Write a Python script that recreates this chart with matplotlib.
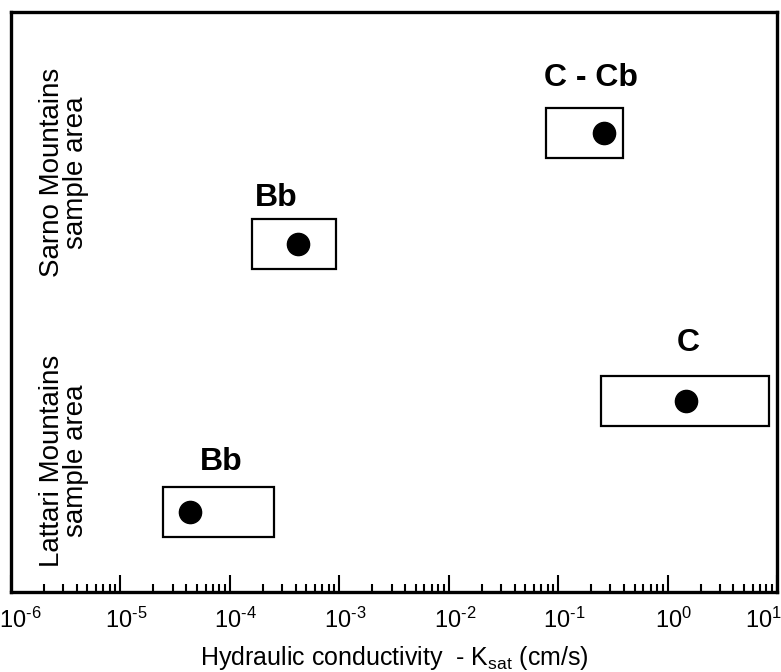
import numpy as np
import matplotlib
matplotlib.use("Agg")
import matplotlib.pyplot as plt
import matplotlib.transforms as mtransforms
from matplotlib.patches import Rectangle
from matplotlib.ticker import LogLocator, NullFormatter

plt.rcParams['font.family'] = ['Liberation Sans', 'DejaVu Sans']
plt.rcParams['mathtext.fontset'] = 'custom'
plt.rcParams['mathtext.rm'] = 'Liberation Sans'
plt.rcParams['mathtext.it'] = 'Liberation Sans'

# Ksat ranges (cm/s) per lithotype, y in relative panel units
labels = ['C - Cb', 'Bb', 'C', 'Bb']
k_low = [0.077, 1.6e-4, 0.245, 2.46e-5]
k_high = [0.389, 9.4e-4, 8.4, 2.55e-4]
k_point = [0.26, 4.2e-4, 1.47, 4.35e-5]
y_center = [0.791, 0.600, 0.329, 0.138]
label_x = [0.198, 2.66e-4, 1.56, 8.3e-5]
label_y = [0.886, 0.679, 0.429, 0.224]
area_names = ['Sarno Mountains\nsample area', 'Lattari Mountains\nsample area']
area_y = [0.723, 0.226]
decades = np.arange(-6, 2)

fig = plt.figure(figsize=(7.81, 6.72), dpi=100)
ax = fig.add_axes([0.0141, 0.119, 0.9808, 0.863])
ax.set_xscale('log')
ax.set_xlim(1e-6, 1e1)
ax.set_ylim(0, 1)

box_h = 0.086
for lo, hi, kp, yc, lab, lx, ly in zip(k_low, k_high, k_point, y_center, labels, label_x, label_y):
    ax.add_patch(Rectangle((lo, yc - box_h / 2), hi - lo, box_h, fill=False,
                           edgecolor='black', linewidth=1.6))
    ax.plot(kp, yc, 'o', color='black', markersize=16)
    ax.text(lx, ly, lab, ha='center', va='center', fontsize=23, fontweight='bold')

for name, ya in zip(area_names, area_y):
    ax.text(0.037, ya, name, transform=ax.transAxes, rotation=90, ha='left',
            va='center', fontsize=20, linespacing=0.9, multialignment='center')

for s in ax.spines.values():
    s.set_linewidth(2.4)

ax.xaxis.set_minor_locator(LogLocator(base=10, subs=np.arange(2, 10), numticks=20))
ax.set_xticks([10.0 ** d for d in decades])
ax.set_xticklabels([r'10$^{\text{%d}}$' % d for d in decades])
ax.xaxis.set_minor_formatter(NullFormatter())
ax.tick_params(axis='x', which='major', direction='in', length=12, width=1.5,
               labelsize=17, pad=11)
ax.tick_params(axis='x', which='minor', direction='in', length=6, width=1.5)
ax.set_yticks([])

# nudge tick labels so the "10" sits over its tick, keep end labels inside
tl = ax.get_xticklabels()
for i, t in enumerate(tl):
    dx = 6
    if i == 0:
        dx = 9
    if i == len(tl) - 1:
        dx = -14
    t.set_transform(t.get_transform() + mtransforms.ScaledTranslation(dx / 100, 0, fig.dpi_scale_trans))

ax.set_xlabel('Hydraulic conductivity  - K$_{sat}$ (cm/s)', fontsize=18, labelpad=8)

fig.savefig('out.png', dpi=100)
